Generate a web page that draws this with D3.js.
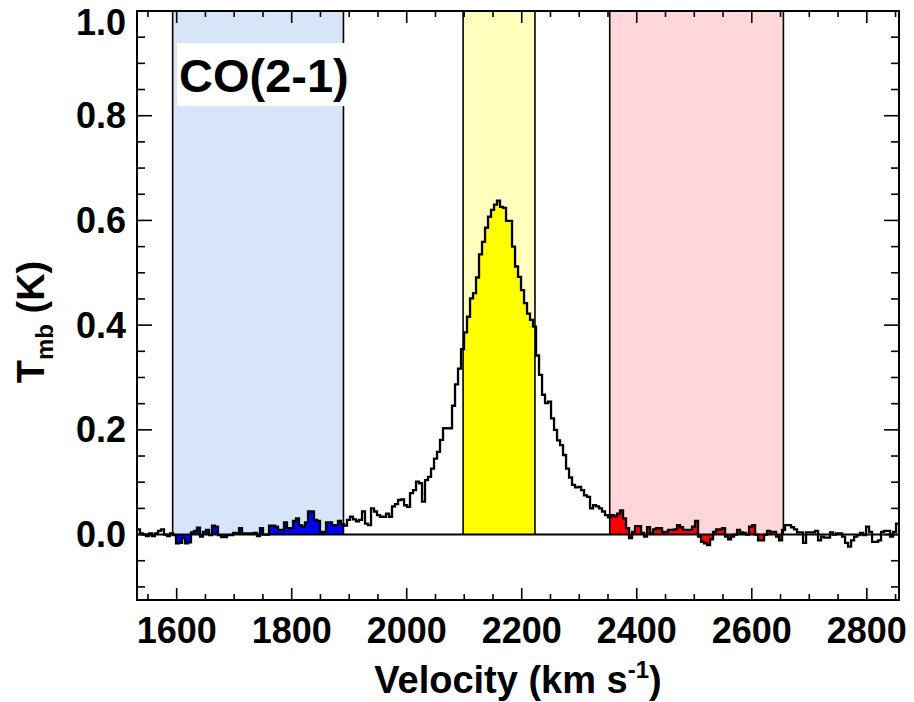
<!DOCTYPE html>
<html>
<head>
<meta charset="utf-8">
<script src="https://cdn.jsdelivr.net/npm/d3@7"></script>
<style>
  body { margin: 0; background: #fff; }
  svg { display: block; font-family: "Liberation Sans", Arial, Helvetica, sans-serif; }
</style>
</head>
<body>
<svg id="chart" width="914" height="702"></svg>
<script>
// spectrum channels: left edge of first channel and channel width (km/s)
const v0 = 1531;
const dv = 5.217;
// Tmb (K) per channel
const tmb = [
  0.010, 0.002, 0.000, -0.003, 0.002, -0.003, 0.002, 0.007, 0.010, 0.000,
  -0.003, 0.002, -0.001, -0.017, -0.016, -0.007, -0.017, -0.015, 0.004, 0.007,
  0.013, -0.004, 0.005, 0.009, -0.001, 0.017, 0.015, -0.001, -0.005, -0.005,
  -0.001, -0.001, 0.003, 0.002, 0.012, 0.002, 0.002, 0.002, 0.002, 0.003,
  -0.003, 0.012, 0.000, 0.000, 0.017, 0.017, 0.015, 0.009, 0.009, 0.023,
  0.012, 0.012, 0.026, 0.031, 0.018, 0.015, 0.023, 0.044, 0.044, 0.028,
  0.026, 0.005, 0.005, 0.023, 0.023, 0.018, 0.018, 0.026, 0.020, 0.017,
  0.028, 0.034, 0.029, 0.025, 0.028, 0.044, 0.021, 0.018, 0.050, 0.044,
  0.037, 0.034, 0.034, 0.040, 0.034, 0.054, 0.058, 0.066, 0.067, 0.056,
  0.053, 0.079, 0.085, 0.101, 0.098, 0.063, 0.104, 0.110, 0.126, 0.145,
  0.158, 0.181, 0.203, 0.203, 0.203, 0.246, 0.287, 0.317, 0.354, 0.386,
  0.416, 0.451, 0.461, 0.491, 0.535, 0.559, 0.586, 0.607, 0.620, 0.630,
  0.638, 0.626, 0.624, 0.599, 0.599, 0.550, 0.512, 0.492, 0.467, 0.442,
  0.422, 0.410, 0.397, 0.342, 0.305, 0.267, 0.251, 0.254, 0.222, 0.200,
  0.180, 0.171, 0.152, 0.126, 0.109, 0.095, 0.090, 0.091, 0.085, 0.075,
  0.072, 0.050, 0.056, 0.054, 0.050, 0.044, 0.037, 0.033, 0.037, 0.035,
  0.040, 0.046, 0.031, 0.012, -0.007, 0.005, 0.016, 0.016, 0.003, -0.004,
  0.014, 0.002, 0.010, 0.012, 0.012, 0.005, 0.005, 0.009, 0.009, 0.010,
  0.018, 0.014, 0.009, 0.009, 0.009, 0.015, 0.026, -0.004, -0.014, -0.017,
  -0.020, -0.009, 0.005, 0.010, 0.010, 0.012, -0.004, -0.009, -0.004, 0.000,
  0.009, 0.004, 0.003, 0.000, 0.015, 0.018, 0.000, -0.011, -0.011, 0.000,
  0.007, 0.005, 0.005, -0.004, -0.011, 0.009, 0.018, 0.018, 0.014, 0.010,
  0.004, 0.004, -0.016, 0.004, 0.004, 0.004, 0.007, -0.011, -0.004, -0.006,
  -0.006, 0.004, 0.000, 0.002, 0.002, -0.004, -0.016, -0.023, -0.011, -0.004,
  -0.001, 0.003, -0.001, 0.015, 0.005, -0.014, -0.014, -0.011, 0.005, 0.007,
  0.007, -0.004, 0.005, 0.021
];

// velocity windows
const bandNames = ["blue", "core", "red"];
const bandLo = [1593, 2098, 2353];
const bandHi = [1890, 2223, 2655];
const bandShade = ["#d6e6f8", "#ffffbe", "#ffd6da"];
const bandFill = ["#0000ff", "#ffff00", "#ff0000"];

const xMajor = [1600, 1800, 2000, 2200, 2400, 2600, 2800];
const yMajor = [0.0, 0.2, 0.4, 0.6, 0.8, 1.0];

const margin = {top: 11, right: 15, bottom: 102, left: 137};
const W = 914, H = 702;

const svg = d3.select("#chart");

const x = d3.scaleLinear().domain([1531, 2856]).range([margin.left, W - margin.right]);
const y = d3.scaleLinear().domain([-0.125, 1.0]).range([H - margin.bottom, margin.top]);

const pts = tmb.map((t, i) => [v0 + i * dv, t]);
pts.push([v0 + tmb.length * dv, tmb[tmb.length - 1]]);

const defs = svg.append("defs");
defs.append("clipPath").attr("id", "plotclip")
  .append("rect")
    .attr("x", x.range()[0]).attr("y", y.range()[1])
    .attr("width", x.range()[1] - x.range()[0])
    .attr("height", y.range()[0] - y.range()[1]);

bandNames.forEach((n, i) => {
  defs.append("clipPath").attr("id", "clip-" + n)
    .append("rect")
      .attr("x", x(bandLo[i])).attr("y", 0)
      .attr("width", x(bandHi[i]) - x(bandLo[i]))
      .attr("height", H);
});

// shaded windows
svg.append("g")
  .selectAll("rect")
  .data(bandNames)
  .join("rect")
    .attr("x", (d, i) => x(bandLo[i]))
    .attr("y", y(1.0))
    .attr("width", (d, i) => x(bandHi[i]) - x(bandLo[i]))
    .attr("height", y(0) - y(1.0))
    .attr("fill", (d, i) => bandShade[i]);

// filled spectrum inside each window
const area = d3.area()
  .curve(d3.curveStepAfter)
  .x(d => x(d[0]))
  .y0(y(0))
  .y1(d => y(d[1]));

svg.append("g")
  .selectAll("path")
  .data(bandNames)
  .join("path")
    .attr("clip-path", d => `url(#clip-${d})`)
    .attr("d", area(pts))
    .attr("fill", (d, i) => bandFill[i]);

// window edges
const edges = [];
bandNames.forEach((n, i) => { edges.push(bandLo[i], bandHi[i]); });
svg.append("g")
  .selectAll("line")
  .data(edges)
  .join("line")
    .attr("x1", d => x(d)).attr("x2", d => x(d))
    .attr("y1", y(1.0)).attr("y2", y(0))
    .attr("stroke", "#000")
    .attr("stroke-width", 1.6);

// zero line
svg.append("line")
  .attr("x1", x.range()[0]).attr("x2", x.range()[1])
  .attr("y1", y(0)).attr("y2", y(0))
  .attr("stroke", "#000")
  .attr("stroke-width", 2);

// spectrum
const line = d3.line()
  .curve(d3.curveStepAfter)
  .x(d => x(d[0]))
  .y(d => y(d[1]));

svg.append("path")
  .attr("clip-path", "url(#plotclip)")
  .attr("d", line(pts))
  .attr("fill", "none")
  .attr("stroke", "#000")
  .attr("stroke-width", 2.3)
  .attr("stroke-linejoin", "miter");

// label box
const lab = svg.append("g");
lab.append("rect")
  .attr("x", 177).attr("y", 43)
  .attr("width", 178).attr("height", 63)
  .attr("fill", "#fff");
lab.append("text")
  .attr("x", 179).attr("y", 92)
  .attr("font-size", 47)
  .attr("font-weight", "bold")
  .text("CO(2-1)");

// ticks
const ticks = svg.append("g").attr("stroke", "#000").attr("stroke-width", 1.6);
const xMinor = d3.range(1550, 2856, 50).filter(v => !xMajor.includes(v));
const yMinor = d3.range(-0.1, 1.0001, 0.05).map(v => Math.round(v * 100) / 100)
  .filter(v => !yMajor.some(m => Math.abs(m - v) < 1e-6));

const x0 = x.range()[0], x1 = x.range()[1];
const yb = y.range()[0], yt = y.range()[1];

[[xMajor, 12], [xMinor, 6]].forEach(([vals, len]) => {
  ticks.selectAll(null).data(vals).join("line")
    .attr("x1", d => x(d)).attr("x2", d => x(d))
    .attr("y1", yb).attr("y2", yb - len);
  ticks.selectAll(null).data(vals).join("line")
    .attr("x1", d => x(d)).attr("x2", d => x(d))
    .attr("y1", yt).attr("y2", yt + len);
});
[[yMajor, 15], [yMinor, 8]].forEach(([vals, len]) => {
  ticks.selectAll(null).data(vals).join("line")
    .attr("x1", x0).attr("x2", x0 + len)
    .attr("y1", d => y(d)).attr("y2", d => y(d));
  ticks.selectAll(null).data(vals).join("line")
    .attr("x1", x1).attr("x2", x1 - len)
    .attr("y1", d => y(d)).attr("y2", d => y(d));
});

// frame
svg.append("rect")
  .attr("x", x0).attr("y", yt)
  .attr("width", x1 - x0).attr("height", yb - yt)
  .attr("fill", "none")
  .attr("stroke", "#000")
  .attr("stroke-width", 2);

// tick labels
const fmt = d3.format(".1f");
svg.append("g")
  .attr("font-size", 36).attr("font-weight", "bold")
  .attr("text-anchor", "middle")
  .selectAll("text")
  .data(xMajor)
  .join("text")
    .attr("x", d => x(d))
    .attr("y", yb + 43)
    .text(d => d);

svg.append("g")
  .attr("font-size", 36).attr("font-weight", "bold")
  .attr("text-anchor", "end")
  .selectAll("text")
  .data(yMajor)
  .join("text")
    .attr("x", x0 - 11)
    .attr("y", d => Math.max(y(d), 22))
    .attr("dy", "0.35em")
    .text(d => fmt(d));

// axis titles
const xt = svg.append("text")
  .attr("x", (x0 + x1) / 2).attr("y", 693)
  .attr("text-anchor", "middle")
  .attr("font-size", 38).attr("font-weight", "bold");
xt.append("tspan").text("Velocity (km s");
xt.append("tspan").attr("font-size", 24).attr("dy", -15).text("-1");
xt.append("tspan").attr("dy", 15).text(")");

const ytl = svg.append("text")
  .attr("transform", "translate(44,322) rotate(-90)")
  .attr("text-anchor", "middle")
  .attr("font-size", 38).attr("font-weight", "bold");
ytl.append("tspan").text("T");
ytl.append("tspan").attr("font-size", 24).attr("dy", 9).text("mb");
ytl.append("tspan").attr("dy", -9).text(" (K)");
</script>
</body>
</html>
